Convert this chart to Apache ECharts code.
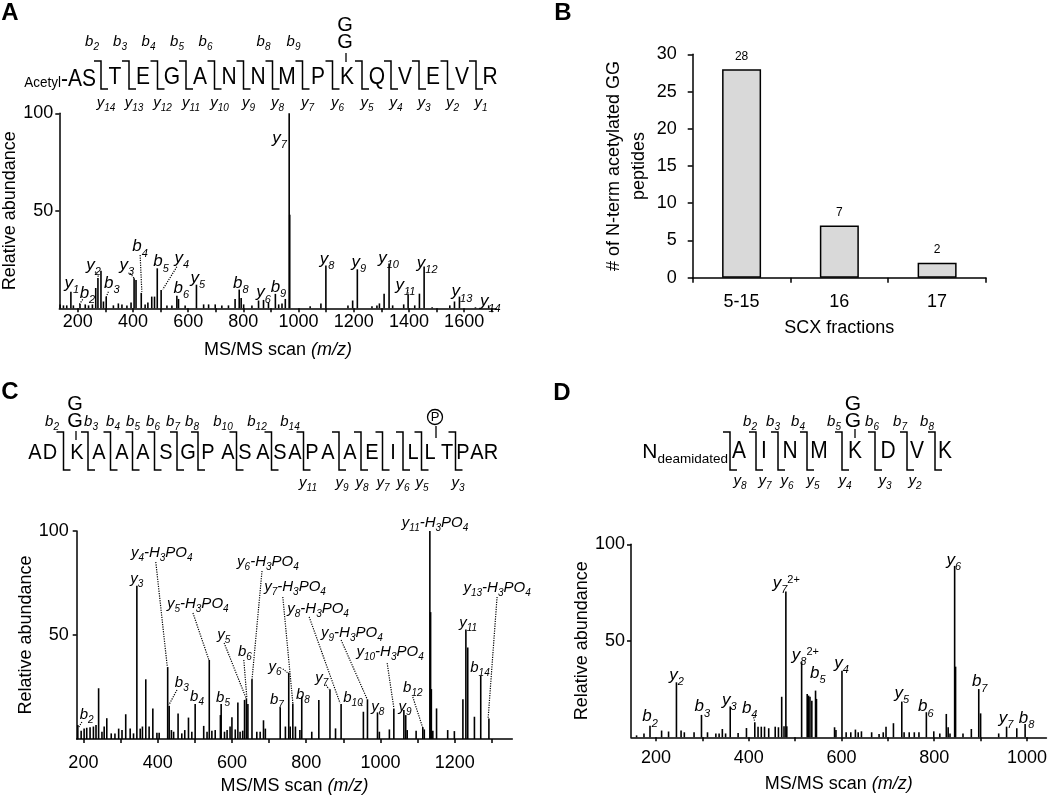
<!DOCTYPE html>
<html><head><meta charset="utf-8">
<script src="https://cdn.jsdelivr.net/npm/echarts@6/dist/echarts.min.js"></script>
<style>html,body{margin:0;padding:0;background:#fff}#c{width:1050px;height:797px}</style>
</head><body><div id="c"></div>
<script>
// ---------------- DATA ----------------
// Panel A spectrum: [m/z, relative abundance]
const aPeaks = [[136,2],[148,1.5],[160,1.5],[175,8.5],[184,1.5],[208,2.2],[227,2],[239,1.5],[253,2],[265,10.4],[273,15.6],[284,19.3],[293,3.5],[303,6],[329,1.5],[347,2.5],[360,2],[378,1.5],[393,3],[404,15.4],[411,14.5],[430,7.9],[444,2],[454,3],[468,6],[478,6],[488,20.5],[502,9.4],[523,1.5],[541,1.5],[559,6.5],[565,4.8],[589,1.5],[630,12.1],[656,2],[674,2],[698,2],[722,1.5],[746,1.5],[770,4.8],[785,9.6],[792,5.3],[801,2],[831,1.5],[855,4],[873,4.3],[891,3],[916,7.4],[928,2],[940,2.5],[952,4.8],[966,100],[968,48],[1042,1],[1081,2.5],[1099,21.9],[1179,1.5],[1196,4],[1213,20],[1266,1],[1284,1.5],[1293,2.5],[1310,7.4],[1328,23],[1341,1.5],[1381,2],[1397,7],[1421,1.5],[1438,7.5],[1455,21.4],[1484,0.5],[1548,1.5],[1565,3.5],[1583,6],[1641,0.5],[1689,1.5]];
// Panel A peak annotations: [text, m/z, abundance]
const aLabels = [['y_{1}',178,12.8],['b_{2}',235,7.7],['y_{2}',257,22.2],['b_{3}',323,12.8],['y_{3}',378,22.2],['b_{4}',426,31.6],['b_{5}',502,23.9],['y_{4}',577,25.6],['b_{6}',575,10.3],['y_{5}',635,15.4],['b_{8}',791,12.8],['y_{6}',873,8],['b_{9}',927,10.8],['y_{7}',931,87.2],['y_{8}',1103,25.1],['y_{9}',1218,23.6],['y_{10}',1326,25.6],['y_{11}',1387,11.9],['y_{12}',1466,23.1],['y_{13}',1592,8.5],['y_{14}',1695,3.4]];
// Panel A dotted leaders: [m/z1, ab1, m/z2, ab2]
const aLeaders = [[218,4.6,204,1.7],[263,18.8,275,16.2],[311,8.5,303,5.9],[390,17.9,404,15.4],[426,27.3,432,8.5],[559,21.3,508,9.7],[1395,9.4,1397,7.5]];
const aXLabels = [200,400,600,800,1000,1200,1400,1600];
const aXTicks = [200,300,400,500,600,700,800,900,1000,1100,1200,1300,1400,1500,1600,1700];
const aYLabels = [50,100];
const aSeqPrefix = 'AS';
const aSeq = ['T','E','G','A','N','N','M','P','K','Q','V','E','V','R'];
const aBIons = ['b_{2}','b_{3}','b_{4}','b_{5}','b_{6}','','b_{8}','b_{9}','','','','','',''];
const aYIons = ['y_{14}','y_{13}','y_{12}','y_{11}','y_{10}','y_{9}','y_{8}','y_{7}','y_{6}','y_{5}','y_{4}','y_{3}','y_{2}','y_{1}'];

// Panel B
const bFractions = ['5-15','16','17'];
const bCounts = [28,7,2];

// Panel C spectrum
const cPeaks = [[185,6.7],[194,4],[202,5],[209,5.4],[218,5.6],[227,6],[234,6.7],[241,24.4],[250,3.5],[256,6],[263,10],[275,2.7],[285,2.7],[295,5],[304,4.3],[314,11.9],[326,5],[335,2.7],[344,73.7],[353,5],[359,6],[368,28.7],[377,6],[387,14.7],[398,3],[404,3],[427,34.6],[431,15.9],[437,4.3],[443,3.5],[455,12.3],[465,2.7],[473,4.3],[483,10.3],[492,3.5],[501,16.8],[524,6.3],[533,3.5],[539,38],[546,4],[555,4.3],[569,11.5],[571,16.8],[580,3.5],[587,4.3],[595,6],[600,10.4],[609,4.6],[616,17.6],[622,3.5],[629,4],[634,18.8],[639,19.6],[643,16.8],[654,28.7],[667,3.5],[676,3.5],[685,9],[690,5],[730,15.2],[744,6],[753,31.9],[757,6],[764,17.1],[771,6],[783,4.3],[788,20.4],[815,3.5],[834,18.8],[864,23.9],[879,5.1],[894,16.8],[954,13.1],[965,19.1],[992,12.8],[997,3.5],[1024,4.6],[1036,14.7],[1063,13.9],[1068,11.5],[1072,4.3],[1096,4],[1114,5.6],[1118,4.6],[1133,100],[1135,61],[1137,24],[1141,4],[1151,14.7],[1181,4.3],[1199,3.8],[1222,19.1],[1230,52.7],[1235,44],[1253,10.7],[1270,30.3],[1292,9.9]];
const cLabels = [['b_{2}',209,11.5],['y_{3}',344,76.9],['y_{4}-H_{3}PO_{4}',411,89.4],['y_{5}-H_{3}PO_{4}',508,64.9],['y_{6}-H_{3}PO_{4}',697,85.1],['y_{5}',578,50],['b_{6}',635,41.8],['y_{7}-H_{3}PO_{4}',770,73.1],['y_{8}-H_{3}PO_{4}',832,62.5],['y_{9}-H_{3}PO_{4}',923,51],['y_{10}-H_{3}PO_{4}',1026,41.8],['y_{6}',716,34.6],['y_{7}',842,29.3],['b_{3}',465,26.9],['b_{4}',506,20.2],['b_{5}',576,19.7],['b_{7}',721,18.8],['b_{8}',791,21.2],['b_{10}',926,19.7],['y_{8}',993,15.4],['y_{9}',1066,15.4],['b_{12}',1087,24.5],['y_{11}-H_{3}PO_{4}',1147,103.8],['y_{11}',1236,55.8],['b_{14}',1268,34.1],['y_{13}-H_{3}PO_{4}',1314,72.6]];
const cLeaders = [[196,8.2,188,5.8],[395,85.1,426,34.6],[495,60.6,538,38],[681,80.8,654,28.4],[579,46.2,638,19.7],[632,38,640,20.2],[737,68.3,764,17.3],[808,58.7,891,17.3],[894,47.6,964,19.2],[1018,36.5,1036,14.9],[737,33.7,751,31.7],[853,26,861,24],[452,23.6,430,16.3],[945,17.3,953,15.4],[1087,20.2,1114,5.3],[1314,68.3,1290,10.1]];
const cXLabels = [200,400,600,800,1000,1200];
const cXTicks = [200,300,400,500,600,700,800,900,1000,1100,1200,1300];
const cYLabels = [50,100];
const cSeq = ['A','D','K','A','A','A','S','G','P','A','S','A','S','A','P','A','A','E','I','L','L','T','P','A','R'];
const cBIons = ['b_{2}','b_{3}','b_{4}','b_{5}','b_{6}','b_{7}','b_{8}','b_{10}','b_{12}','b_{14}'];
const cYIons = ['y_{11}','y_{9}','y_{8}','y_{7}','y_{6}','y_{5}','y_{3}'];

// Panel D spectrum
const dPeaks = [[158,1],[174,2],[187,6],[212,3.5],[227,3],[244,28.5],[254,3.5],[261,2.6],[282,2.6],[298,11.6],[311,2.6],[329,2],[336,2],[343,4.3],[350,2],[360,16],[377,2.2],[395,4.8],[413,7.8],[420,5.5],[427,5.5],[434,5.5],[443,4.7],[457,5.5],[464,5.2],[471,21],[476,5.7],[480,75.5],[482,5.7],[514,38.9],[526,22.4],[529,21.6],[532,21],[536,19],[544,24.2],[546,19.9],[585,5.2],[588,3.8],[601,34.5],[610,2.6],[620,2.6],[630,4],[636,2.6],[643,3.1],[665,2.6],[681,1.7],[690,2.6],[696,5.5],[712,7.3],[730,18.5],[735,2.6],[746,2.6],[757,2.6],[767,2.6],[783,13],[799,3.1],[812,2],[826,12.1],[830,5.2],[834,2],[844,88.8],[846,36.6],[862,2],[880,4.3],[896,25],[900,12.4],[939,2],[956,5.5],[978,4.7],[996,6.9]];
const dLabels = [['b_{2}',187,10.7],['y_{2}',244,32.3],['b_{3}',300,15.9],['y_{3}',358,19.3],['b_{4}',402,15],['y_{7}^{2+}',481,79.8],['y_{8}^{2+}',522,42.6],['b_{5}',549,33.2],['y_{4}',600,38.3],['y_{5}',730,22.8],['b_{6}',782,15.9],['y_{6}',842,91.9],['b_{7}',898,28.8],['y_{7}',955,9.8],['b_{8}',999,9.8]];
const dLeaders = [[409,11.6,413,8]];
const dXLabels = [200,400,600,800,1000];
const dXTicks = [200,300,400,500,600,700,800,900,1000];
const dYLabels = [50,100];
const dSeq = ['A','I','N','M','K','D','V','K'];
const dBIons = ['b_{2}','b_{3}','b_{4}','b_{5}','b_{6}','b_{7}','b_{8}'];
const dYIons = ['y_{8}','y_{7}','y_{6}','y_{5}','y_{4}','y_{3}','y_{2}'];

// ---------------- HELPERS ----------------
const F = '"Liberation Sans", Arial, sans-serif';
function toRich(s) {
  let out = '', buf = '', i = 0;
  const flush = () => { if (buf) { out += '{m|' + buf + '}'; buf = ''; } };
  while (i < s.length) {
    const c = s[i];
    if ((c === '_' || c === '^') && s[i + 1] === '{') {
      const j = s.indexOf('}', i);
      flush();
      out += '{' + (c === '_' ? 's' : 'p') + '|' + s.slice(i + 2, j) + '}';
      i = j + 1;
    } else { buf += c; i++; }
  }
  flush();
  return out;
}
function richStyles(fs, sfs) {
  return {
    m: {fontSize: fs, fontStyle: 'italic', fontFamily: F, color: '#000', fill: '#000', lineHeight: fs + 2},
    s: {fontSize: sfs, fontStyle: 'italic', fontFamily: F, color: '#000', fill: '#000', lineHeight: sfs, verticalAlign: 'top', padding: [Math.round(fs * 0.62), 0, 0, 0]},
    p: {fontSize: sfs, fontFamily: F, color: '#000', fill: '#000', lineHeight: sfs, verticalAlign: 'top', padding: [1, 0, 0, 0]}
  };
}
const plainNum = v => String(v);
function xAxisSpec(gi, min, max, labels, ticks, margin, nameGap) {
  return {
    type: 'value', gridIndex: gi, min: min, max: max,
    axisLine: {show: true, onZero: false, lineStyle: {color: '#000', width: 1.5}},
    axisTick: {show: true, length: 4, customValues: ticks, lineStyle: {color: '#000', width: 1.5}},
    axisLabel: {customValues: labels, margin: margin, fontSize: 18, color: '#000', fontFamily: F, formatter: plainNum},
    splitLine: {show: false},
    name: 'MS/MS scan {i|(m/z)}', nameLocation: 'middle', nameGap: nameGap,
    nameTextStyle: {fontSize: 18, color: '#000', fontFamily: F,
      rich: {i: {fontSize: 18, fontStyle: 'italic', fontFamily: F, color: '#000'}}}
  };
}
function yAxisSpec(gi, labels, margin, nameGap) {
  return {
    type: 'value', gridIndex: gi, min: 0, max: 100,
    axisLine: {show: true, lineStyle: {color: '#000', width: 1.5}},
    axisTick: {show: true, length: 4, customValues: labels, lineStyle: {color: '#000', width: 1.5}},
    axisLabel: {customValues: labels, margin: margin, fontSize: 18, color: '#000', fontFamily: F, formatter: plainNum},
    splitLine: {show: false},
    name: 'Relative abundance', nameLocation: 'middle', nameGap: nameGap, nameRotate: 90,
    nameTextStyle: {fontSize: 18, color: '#000', fontFamily: F}
  };
}
function peakSeries(gi, peaks) {
  return {
    type: 'custom', xAxisIndex: gi, yAxisIndex: gi, silent: true, data: peaks, encode: {x: 0, y: 1},
    renderItem: function (params, api) {
      const a = api.coord([api.value(0), 0]);
      const b = api.coord([api.value(0), api.value(1)]);
      return {type: 'line', shape: {x1: a[0], y1: a[1], x2: b[0], y2: b[1]}, style: {stroke: '#000', lineWidth: 1.6}};
    }
  };
}
function labelSeries(gi, labels, fs, sfs) {
  const R = richStyles(fs, sfs);
  return {
    type: 'scatter', xAxisIndex: gi, yAxisIndex: gi, symbolSize: 1,
    itemStyle: {color: 'rgba(255,255,255,0)'},
    silent: true, clip: false, z: 5,
    data: labels.map(l => ({value: [l[1], l[2]],
      label: {show: true, position: 'inside', color: '#000', opacity: 1, formatter: toRich(l[0]), rich: R}}))
  };
}
function leaderSeries(gi, leaders) {
  return {
    type: 'lines', coordinateSystem: 'cartesian2d', xAxisIndex: gi, yAxisIndex: gi, silent: true, z: 4,
    lineStyle: {color: '#000', width: 1.2, type: 'dotted', opacity: 1},
    data: leaders.map(l => ({coords: [[l[0], l[1]], [l[2], l[3]]]}))
  };
}

// ---------------- PEPTIDE DIAGRAM LAYOUT (decoration) ----------------
const G = [];
function txt(x, y, text, font, align, rich, sy) {
  const st = {text: text, font: font, fill: '#000', align: align || 'center', verticalAlign: 'middle',
    textAlign: align || 'center', textVerticalAlign: 'middle'};
  if (rich) st.rich = rich;
  const el = {type: 'text', x: x, y: y, silent: true, style: st};
  if (sy) el.scaleY = sy;
  G.push(el);
}
function seg(x1, y1, x2, y2, w) {
  G.push({type: 'line', silent: true, shape: {x1: x1, y1: y1, x2: x2, y2: y2}, style: {stroke: '#000', lineWidth: w || 1.5}});
}
function bracket(x, top, bottom, hook, kind) {
  const pts = [];
  if (kind.indexOf('b') >= 0) pts.push([x - hook, top]);
  pts.push([x, top]); pts.push([x, bottom]);
  if (kind.indexOf('y') >= 0) pts.push([x + hook, bottom]);
  G.push({type: 'polyline', silent: true, shape: {points: pts}, style: {stroke: '#000', lineWidth: 1.5, fill: 'none'}});
}
const SEQF = '21px ' + F;
const SY = 1.12;
const ionRich = richStyles(15, 10);
const panelF = 'bold 24px ' + F;

// Panel letters
txt(10, 13, 'A', panelF); txt(563, 13, 'B', panelF); txt(10, 392, 'C', panelF); txt(562, 393, 'D', panelF);

// Panel A peptide
(function () {
  const row = 78, top = 61, bot = 89;
  const xs = [115, 143, 172, 200, 229, 258, 287, 318, 347, 377, 405, 433, 462, 490];
  txt(96, row, '{s|Acetyl}{m|-' + aSeqPrefix + '}', SEQF, 'right', {
    s: {fontSize: 13.5, fontFamily: F, fill: '#000', color: '#000', lineHeight: 16, verticalAlign: 'bottom'},
    m: {fontSize: 21, fontFamily: F, fill: '#000', color: '#000', lineHeight: 23, verticalAlign: 'bottom'}}, SY);
  let prev = 87;
  aSeq.forEach((r, i) => {
    txt(xs[i], row, r, SEQF, 'center', null, SY);
    const bx = (prev + xs[i]) / 2;
    bracket(bx, top, bot, 7, 'by');
    if (aBIons[i]) txt(bx - 9, 42, toRich(aBIons[i]), '15px ' + F, 'center', ionRich);
    if (aYIons[i]) txt(bx + 5, 103, toRich(aYIons[i]), '15px ' + F, 'center', ionRich);
    prev = xs[i];
  });
  // GG on K
  txt(345, 25, 'G', '20px ' + F); txt(345, 42, 'G', '20px ' + F); seg(346, 53, 346, 62, 1.3);
})();

// Panel C peptide
(function () {
  const row = 453, top = 432, bot = 470;
  const xs = [35, 50, 77, 99, 122, 143, 166, 188, 208, 228, 245, 263, 280, 295, 312, 328, 350, 372, 393, 413, 430, 447, 463, 477, 491];
  cSeq.forEach((r, i) => txt(xs[i], row, r, '20px ' + F, 'center', null, SY));
  const br = [[63.5, 'b'], [88, 'b'], [110.5, 'b'], [132.5, 'b'], [154.5, 'b'], [177, 'b'], [198, 'b'], [236.5, 'b'], [271.5, 'b'], [303.5, 'by'], [339, 'y'], [361, 'y'], [382.5, 'y'], [403, 'y'], [421.5, 'y'], [455.5, 'y']];
  br.forEach(b => bracket(b[0], top, bot, 7, 'by'));
  const bx = [52, 91, 113, 133, 153, 173, 192, 223, 257, 290];
  cBIons.forEach((t, i) => txt(bx[i], 422, toRich(t), '15px ' + F, 'center', ionRich));
  const yx = [308, 342, 362, 383, 403, 422, 458];
  cYIons.forEach((t, i) => txt(yx[i], 483, toRich(t), '15px ' + F, 'center', ionRich));
  txt(75, 404, 'G', '20px ' + F); txt(75, 421, 'G', '20px ' + F); seg(76, 431, 76, 440, 1.3);
  G.push({type: 'circle', silent: true, shape: {cx: 435, cy: 417, r: 7.5}, style: {stroke: '#000', fill: '#fff', lineWidth: 1.3}});
  txt(435, 417.5, 'P', '13px ' + F);
  seg(436, 426, 436, 438, 1.3);
})();

// Panel D peptide
(function () {
  const row = 452, top = 432, bot = 470;
  txt(728, row, '{n|N}{s|deamidated}', '21px ' + F, 'right', {
    n: {fontSize: 21, fontFamily: F, fill: '#000', color: '#000', lineHeight: 23},
    s: {fontSize: 13.5, fontFamily: F, fill: '#000', color: '#000', lineHeight: 14, verticalAlign: 'top', padding: [12, 0, 0, 0]}});
  const xs = [739, 764, 790, 819, 855, 888, 917, 945];
  dSeq.forEach((r, i) => txt(xs[i], row, r, SEQF, 'center', null, SY));
  const br = [730, 756, 778, 807, 842, 875, 907, 935];
  br.forEach(b => bracket(b, top, bot, 7, 'by'));
  const bx = [750, 773, 798, 834, 872, 900, 927];
  dBIons.forEach((t, i) => txt(bx[i], 422, toRich(t), '15px ' + F, 'center', ionRich));
  const yx = [740, 765, 787, 813, 845, 885, 915];
  dYIons.forEach((t, i) => txt(yx[i], 481, toRich(t), '15px ' + F, 'center', ionRich));
  txt(853, 404, 'G', '21px ' + F); txt(853, 421, 'G', '21px ' + F); seg(855, 429, 855, 438, 1.3);
})();

// ---------------- OPTION ----------------
const chart = echarts.init(document.getElementById('c'), null, {renderer: 'canvas'});
const option = {
  animation: false,
  backgroundColor: '#fff',
  textStyle: {fontFamily: F},
  grid: [
    {left: 59.3, top: 113.3, width: 437.4, height: 195},
    {left: 692.7, top: 54.3, width: 293.3, height: 223.4},
    {left: 76.7, top: 531, width: 435.6, height: 208},
    {left: 631, top: 544.3, width: 417, height: 193}
  ],
  xAxis: [
    xAxisSpec(0, 133, 1718, aXLabels, aXTicks, 5, 33),
    {type: 'category', gridIndex: 1, data: bFractions,
      axisLine: {show: true, lineStyle: {color: '#000', width: 1.5}},
      axisTick: {show: true, length: 5, interval: 0, lineStyle: {color: '#000', width: 1.5}},
      axisLabel: {fontSize: 18, color: '#000', fontFamily: F, margin: 15},
      name: 'SCX fractions', nameLocation: 'middle', nameGap: 41,
      nameTextStyle: {fontSize: 18, color: '#000', fontFamily: F}},
    xAxisSpec(2, 182, 1355, cXLabels, cXTicks, 15, 38),
    xAxisSpec(3, 146, 1042, dXLabels, dXTicks, 12, 38)
  ],
  yAxis: [
    yAxisSpec(0, aYLabels, 6, 30),
    {type: 'value', gridIndex: 1, min: 0, max: 30, interval: 5,
      axisLine: {show: true, lineStyle: {color: '#000', width: 1.5}},
      axisTick: {show: true, length: 5, lineStyle: {color: '#000', width: 1.5}},
      axisLabel: {fontSize: 18, color: '#000', fontFamily: F, margin: 16},
      splitLine: {show: false},
      name: '# of N-term acetylated GG\npeptides', nameLocation: 'middle', nameGap: 41, nameRotate: 90,
      nameTextStyle: {fontSize: 18, color: '#000', fontFamily: F, lineHeight: 25}},
    yAxisSpec(2, cYLabels, 8, 37),
    yAxisSpec(3, dYLabels, 6, 38)
  ],
  series: [
    peakSeries(0, aPeaks), leaderSeries(0, aLeaders), labelSeries(0, aLabels, 17, 11),
    {type: 'bar', xAxisIndex: 1, yAxisIndex: 1, data: bCounts, barWidth: 39,
      itemStyle: {color: '#d9d9d9', borderColor: '#000', borderWidth: 1.5},
      label: {show: true, position: 'top', distance: 7, fontSize: 12, color: '#000', fontFamily: F}},
    peakSeries(2, cPeaks), leaderSeries(2, cLeaders), labelSeries(2, cLabels, 15, 10),
    peakSeries(3, dPeaks), leaderSeries(3, dLeaders), labelSeries(3, dLabels, 17, 11)
  ],
  graphic: G
};
chart.setOption(option);
</script>
</body></html>
